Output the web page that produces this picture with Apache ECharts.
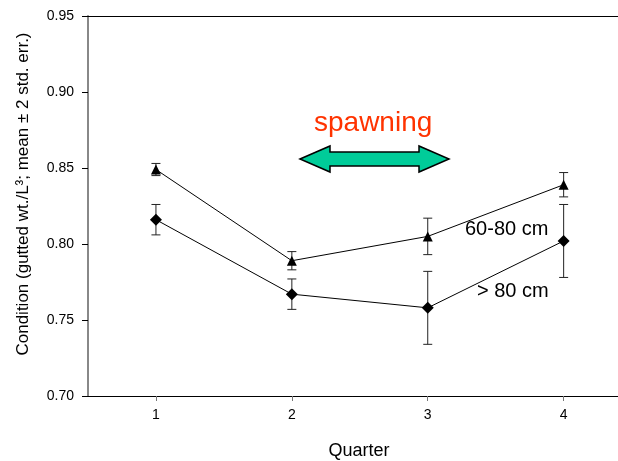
<!DOCTYPE html>
<html>
<head>
<meta charset="utf-8">
<script src="https://cdn.jsdelivr.net/npm/echarts@6/dist/echarts.min.js"></script>
<style>
  html, body { margin: 0; padding: 0; background: #fff; }
  #chart { width: 618px; height: 461px; }
</style>
</head>
<body>
<div id="chart"></div>
<script>
const quarters = [1, 2, 3, 4]
const mid = [0.849, 0.789, 0.805, 0.839]        // 60-80 cm
const midLow = [0.845, 0.783, 0.793, 0.831]
const midHigh = [0.853, 0.795, 0.817, 0.847]
const big = [0.816, 0.767, 0.758, 0.802]        // > 80 cm
const bigLow = [0.806, 0.757, 0.734, 0.778]
const bigHigh = [0.826, 0.777, 0.782, 0.826]

const FONT = 'Liberation Sans, Arial, sans-serif'

const errBar = (lo, hi) => ({
  type: 'custom',
  z: 1,
  silent: true,
  renderItem: (params, api) => {
    const x = api.value(0)
    const top = api.coord([x, api.value(2)])
    const bot = api.coord([x, api.value(1)])
    const w = 4.5
    const style = { stroke: '#222', lineWidth: 1 }
    return {
      type: 'group',
      children: [
        { type: 'line', shape: { x1: top[0], y1: top[1], x2: bot[0], y2: bot[1] }, style },
        { type: 'line', shape: { x1: top[0] - w, y1: top[1], x2: top[0] + w, y2: top[1] }, style },
        { type: 'line', shape: { x1: bot[0] - w, y1: bot[1], x2: bot[0] + w, y2: bot[1] }, style },
      ],
    }
  },
  data: quarters.map((q, i) => [q, lo[i], hi[i]]),
})

const chart = echarts.init(document.getElementById('chart'))

chart.setOption({
  animation: false,
  textStyle: { fontFamily: FONT },
  grid: { left: 88, right: 0, top: 16, bottom: 65, outerBoundsMode: 'none' },
  xAxis: [
    {
      type: 'value',
      min: 0.5,
      max: 4.4,
      name: 'Quarter',
      nameLocation: 'middle',
      nameGap: 46,
      nameTextStyle: { fontSize: 18, color: '#000', fontFamily: FONT, padding: [0, 0, 0, 12] },
      splitLine: { show: false },
      axisLine: { lineStyle: { color: '#000', width: 1 } },
      axisTick: { customValues: quarters, length: 5, lineStyle: { color: '#777' } },
      axisLabel: { customValues: quarters, fontSize: 14, color: '#000', margin: 12 },
    },
    {
      type: 'value',
      position: 'top',
      min: 0.5,
      max: 4.4,
      splitLine: { show: false },
      axisLine: { show: true, lineStyle: { color: '#000', width: 1 } },
      axisTick: { show: false },
      axisLabel: { show: false },
    },
  ],
  yAxis: {
    type: 'value',
    min: 0.7,
    max: 0.95,
    interval: 0.05,
    name: 'Condition (gutted wt./L³; mean ± 2 std. err.)',
    nameLocation: 'middle',
    nameGap: 56,
    nameTextStyle: { fontSize: 17, color: '#000', fontFamily: FONT, padding: [0, 0, 0, 24] },
    splitLine: { show: false },
    axisLine: { show: true, lineStyle: { color: '#888', width: 2 } },
    axisTick: { length: 6, lineStyle: { color: '#000' } },
    axisLabel: {
      fontSize: 14,
      color: '#000',
      margin: 14,
      formatter: v => v.toFixed(2),
    },
  },
  series: [
    errBar(midLow, midHigh),
    errBar(bigLow, bigHigh),
    {
      name: '60-80 cm',
      type: 'line',
      z: 3,
      data: quarters.map((q, i) => [q, mid[i]]),
      symbol: 'triangle',
      symbolSize: 10,
      lineStyle: { color: '#000', width: 1 },
      itemStyle: { color: '#000' },
    },
    {
      name: '> 80 cm',
      type: 'line',
      z: 3,
      data: quarters.map((q, i) => [q, big[i]]),
      symbol: 'diamond',
      symbolSize: 12,
      lineStyle: { color: '#000', width: 1 },
      itemStyle: { color: '#000' },
    },
  ],
  graphic: [
    {
      type: 'text',
      left: 314,
      top: 109,
      style: { text: 'spawning', fill: '#ff3300', fontSize: 28, fontFamily: FONT },
    },
    {
      type: 'polygon',
      shape: {
        points: [
          [300, 159], [330, 146], [330, 152], [419, 152], [419, 146],
          [449, 159], [419, 172], [419, 166], [330, 166], [330, 172],
        ],
      },
      style: { fill: '#00cc99', stroke: '#000', lineWidth: 1.5 },
    },
    {
      type: 'text',
      left: 465,
      top: 219,
      style: { text: '60-80 cm', fill: '#000', fontSize: 20, fontFamily: FONT },
    },
    {
      type: 'text',
      left: 477,
      top: 281,
      style: { text: '> 80 cm', fill: '#000', fontSize: 20, fontFamily: FONT },
    },
  ],
})
</script>
</body>
</html>
